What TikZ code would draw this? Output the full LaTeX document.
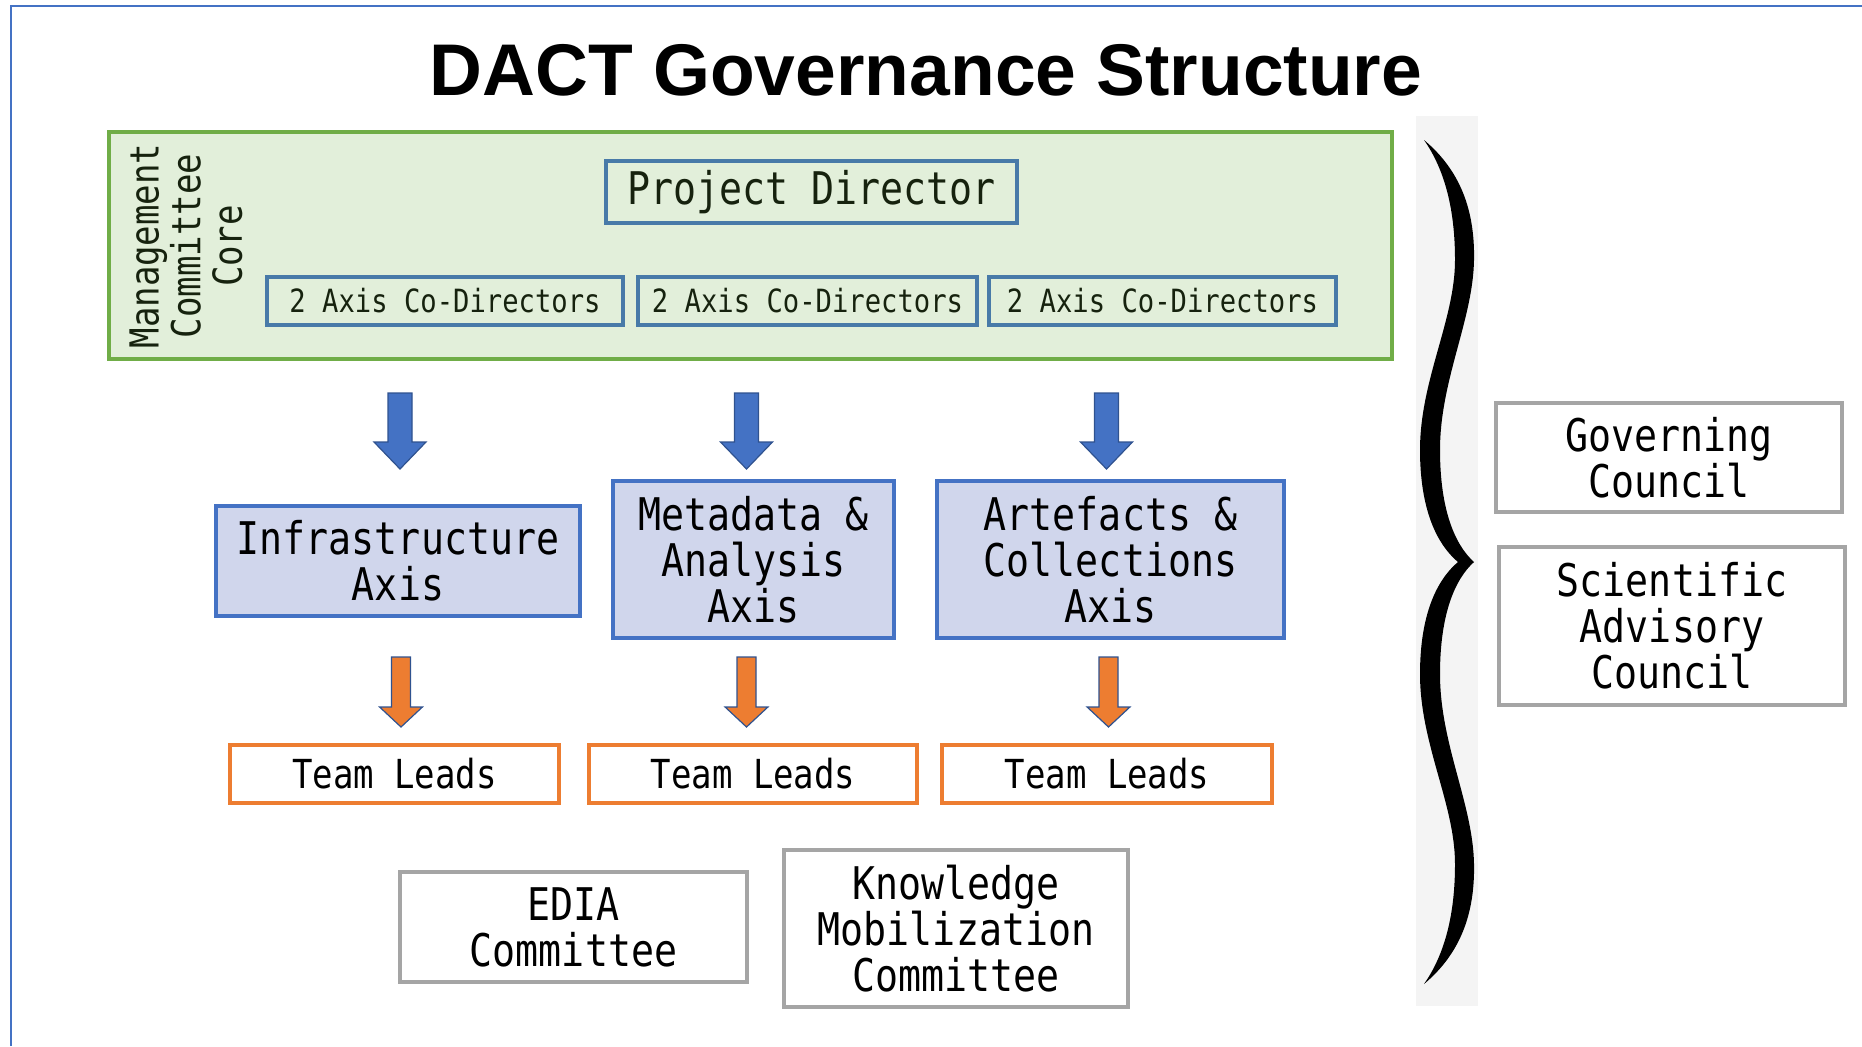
\documentclass[tikz,border=0pt]{standalone}
\usepackage{fontspec}
\setmainfont{Liberation Sans}
\newfontfamily\boxfont[FakeStretch=0.85]{DejaVu Sans Mono}
\usetikzlibrary{positioning,calc}

\definecolor{coregreen}{RGB}{226,239,218}
\definecolor{coreedge}{RGB}{112,173,71}
\definecolor{steel}{RGB}{72,122,168}
\definecolor{axisblue}{RGB}{68,114,196}
\definecolor{axisfill}{RGB}{208,214,236}
\definecolor{arrowedge}{RGB}{47,82,143}
\definecolor{teamorange}{RGB}{237,125,49}
\definecolor{councilgrey}{RGB}{165,165,165}
\definecolor{stripgrey}{RGB}{244,244,244}
\definecolor{inkgreen}{RGB}{22,34,14}

\tikzset{blockarrow/.style n args={3}{to path={let \p1=(\tikztostart), \p2=(\tikztotarget) in
  (\x1-#1,\y1) -- (\x1+#1,\y1) -- (\x1+#1,\y2+#3) -- (\x1+#2,\y2+#3) -- (\x2,\y2)
  -- (\x1-#2,\y2+#3) -- (\x1-#1,\y2+#3) -- cycle}}}

\begin{document}
\begin{tikzpicture}[x=0.5pt, y=-0.5pt, font=\boxfont]
\tikzstyle{box}=[draw, line width=2pt, align=center, inner sep=0pt]
\tikzstyle{lead}=[box, draw=steel, text=inkgreen]
\tikzstyle{axis}=[box, draw=axisblue, fill=axisfill, font=\boxfont\fontsize{22.5}{23}\selectfont]
\tikzstyle{team}=[box, draw=teamorange, fill=white, font=\boxfont\fontsize{20}{22}\selectfont]
\tikzstyle{council}=[box, draw=councilgrey, fill=white, font=\boxfont\fontsize{22.5}{23}\selectfont]
\tikzstyle{bluearrow}=[draw=arrowedge, fill=axisblue, line width=0.6pt, blockarrow={6pt}{13pt}{13.5pt}]
\tikzstyle{orangearrow}=[draw=arrowedge, fill=teamorange, line width=0.6pt, blockarrow={4.75pt}{10.7pt}{10pt}]

\useasboundingbox (0,0) rectangle (1862,1046);
\draw[axisblue, line width=1pt] (11,1046) -- (11,6) -- (1862,6);

\node[anchor=base, font=\fontsize{36.6}{40}\selectfont\bfseries] (title) at (926,95) {DACT Governance Structure};

% management core
\node[box, draw=coreedge, fill=coregreen, line width=2.25pt, minimum width=641.5pt, minimum height=113.5pt] (core) at (750.5,245.5) {};
\node[rotate=90, align=center, text=inkgreen, font=\boxfont\fontsize{20}{20.8}\selectfont] (mcc) at (186,246) {Management\\Committee\\Core};
\node[lead, minimum width=205.5pt, minimum height=31pt, font=\boxfont\fontsize{22.5}{24}\selectfont] (pd) at (811.5,192) {Project Director};
\tikzstyle{codir}=[lead, minimum height=24pt, font=\boxfont\fontsize{16}{18}\selectfont]
\node[codir, minimum width=178pt] (cd1) at (445,301) {2 Axis Co-Directors};
\node[codir, minimum width=169.5pt] (cd2) at (807.5,301) {2 Axis Co-Directors};
\node[codir, minimum width=173.5pt] (cd3) at (1162.5,301) {2 Axis Co-Directors};

% axes
\node[axis, minimum width=182pt, minimum height=55pt] (infra) at (398,561) {Infrastructure\\Axis};
\node[axis, minimum width=140.5pt, minimum height=78.5pt] (meta) at (753.5,559.5) {Metadata \&\\Analysis\\Axis};
\node[axis, minimum width=173.5pt, minimum height=78.5pt] (arte) at (1110.5,559.5) {Artefacts \&\\Collections\\Axis};

\coordinate (bt) at (0,393);
\coordinate (bb) at (0,469);
\path[bluearrow] ([xshift=1pt]infra |- bt) to ([xshift=1pt]infra |- bb);
\path[bluearrow] ([xshift=-3.5pt]meta |- bt) to ([xshift=-3.5pt]meta |- bb);
\path[bluearrow] ([xshift=-2pt]arte |- bt) to ([xshift=-2pt]arte |- bb);

% team leads
\node[team, minimum width=164.5pt, minimum height=29pt] (tl1) at (394.5,774) {Team Leads};
\node[team, minimum width=164pt, minimum height=29pt] (tl2) at (753,774) {Team Leads};
\node[team, minimum width=165pt, minimum height=29pt] (tl3) at (1107,774) {Team Leads};

\coordinate (ot) at (0,657);
\coordinate (ob) at (0,727);
\path[orangearrow] ([xshift=1.5pt]infra |- ot) to ([xshift=1.5pt]infra |- ob);
\path[orangearrow] ([xshift=-3.5pt]meta |- ot) to ([xshift=-3.5pt]meta |- ob);
\path[orangearrow] ([xshift=-1pt]arte |- ot) to ([xshift=-1pt]arte |- ob);

% committees
\node[council, minimum width=173.5pt, minimum height=55pt] (edia) at (573.5,927) {EDIA\\Committee};
\node[council, minimum width=172pt, minimum height=78.5pt] (kmc) at (956,928.5) {Knowledge\\Mobilization\\Committee};

% brace and councils
\fill[stripgrey] (1416,116) rectangle (1478,1006);
\fill[black] (1424,140) .. controls (1460,170) and (1475,210) .. (1474,260)
  .. controls (1473,320) and (1440,380) .. (1440,450)
  .. controls (1440,510) and (1455,545) .. (1474,562)
  .. controls (1455,579) and (1440,614) .. (1440,674)
  .. controls (1440,744) and (1473,804) .. (1474,864)
  .. controls (1475,914) and (1460,954) .. (1424,984)
  .. controls (1445,954) and (1455,914) .. (1455,864)
  .. controls (1455,804) and (1420,744) .. (1420,674)
  .. controls (1420,624) and (1432,584) .. (1458,562)
  .. controls (1432,540) and (1420,500) .. (1420,450)
  .. controls (1420,380) and (1455,320) .. (1455,260)
  .. controls (1455,210) and (1445,170) .. (1424,140) -- cycle;
\node[council, minimum width=173pt, minimum height=54.5pt] (gc) at (1669,457.5) {Governing\\Council};
\node[council, minimum width=173pt, minimum height=79pt] (sac) at (1672,626) {Scientific\\Advisory\\Council};
\end{tikzpicture}
\end{document}
